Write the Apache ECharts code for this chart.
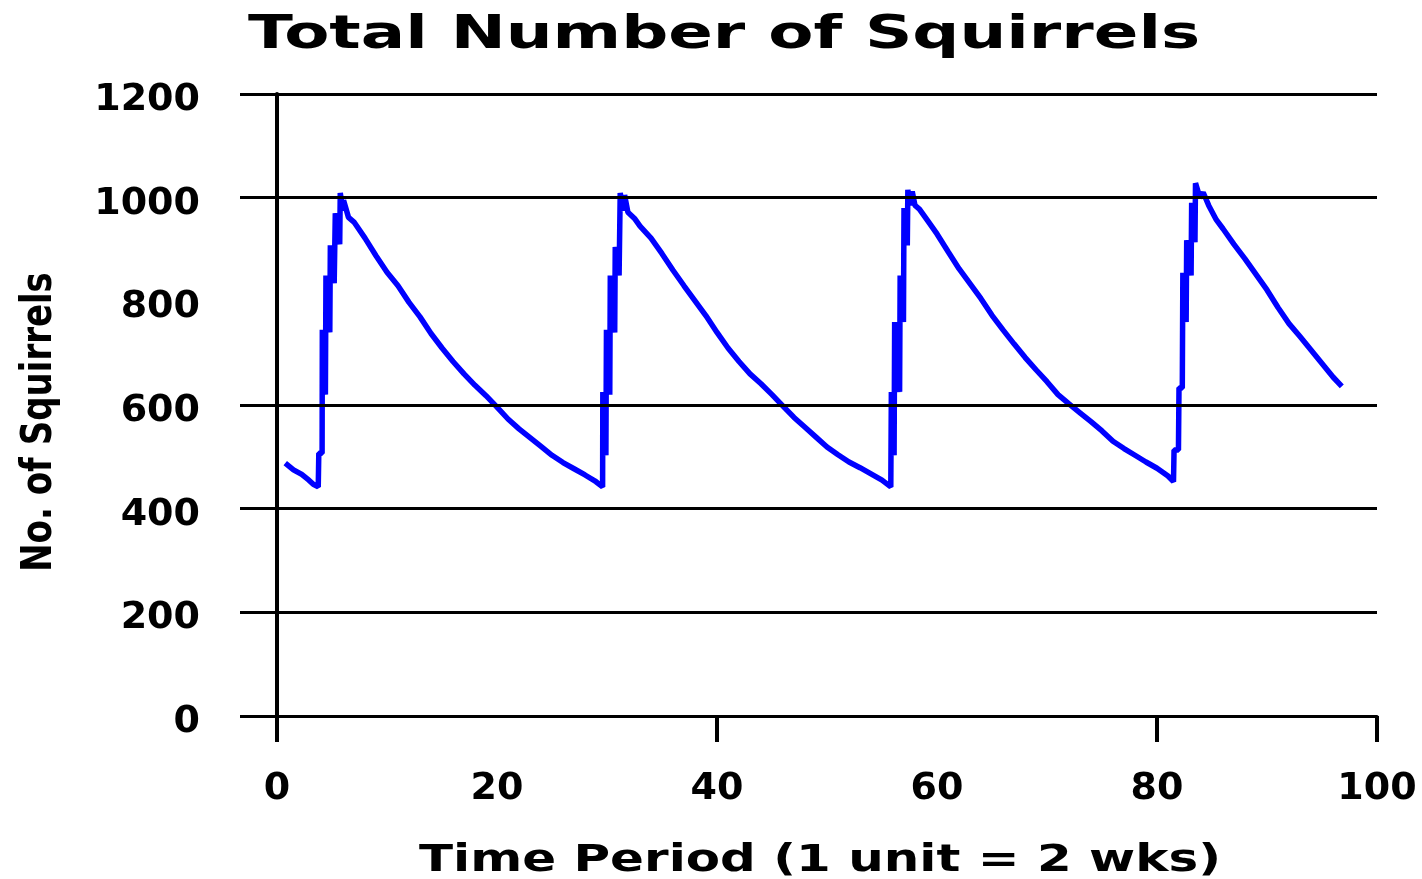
<!DOCTYPE html>
<html>
<head>
<meta charset="utf-8">
<script src="https://cdn.jsdelivr.net/npm/echarts@6/dist/echarts.min.js"></script>
<style>
  html, body { margin: 0; padding: 0; background: #ffffff; }
  #chart { width: 1422px; height: 879px; }
</style>
</head>
<body>
<div id="chart"></div>
<script>
// ---- data ----
const chartTitle = 'Total Number of Squirrels';
const xAxisName = 'Time Period (1 unit = 2 wks)';
const yAxisName = 'No. of Squirrels';

const time = [
  0.75, 1.5, 2.25, 2.9, 3.3, 3.75,
  3.8, 4.1, 4.12, 4.4, 4.45, 4.8, 4.85, 5.2, 5.3, 5.7, 5.75, 6.0, 6.05, 6.5,
  7, 8, 9, 10, 11, 12, 13, 14, 15, 16, 17, 18, 19, 20, 21, 22, 23, 24, 25, 26, 27, 28, 29, 29.6,
  29.62, 29.9, 29.95, 30.25, 30.3, 30.7, 30.75, 31.1, 31.2, 31.5, 31.6, 31.9, 32.5,
  33, 34, 35, 36, 37, 38, 39, 40, 41, 42, 43, 44, 45, 46, 47, 48, 49, 50, 51, 52, 53, 54, 55, 55.8,
  55.85, 56.1, 56.15, 56.6, 56.65, 56.95, 57.0, 57.3, 57.35, 57.55, 57.75, 58.0, 58.4, 59.1,
  60, 61, 62, 63, 64, 65, 66, 67, 68, 69, 70, 71, 72, 73, 74, 75, 76, 77, 78, 79, 80, 81, 81.5,
  81.55, 81.95, 82.0, 82.3, 82.35, 82.65, 82.7, 83.1, 83.15, 83.45, 83.5, 83.9, 84.2, 84.7, 85.4,
  86, 87, 88, 89, 90, 91, 92, 93, 94, 95, 96, 96.8
];
const squirrels = [
  488, 475, 466, 455, 447, 442,
  507, 507, 745, 620, 850, 740, 908, 835, 970, 910, 1009, 975, 995, 962,
  953, 922, 888, 856, 830, 798, 770, 738, 710, 684, 660, 638, 618, 596, 573, 554, 537, 520, 503, 489, 477, 465, 452, 442,
  625, 503, 745, 620, 850, 740, 905, 850, 1009, 975, 1005, 972, 960,
  945, 922, 892, 860, 830, 801, 772, 740, 710, 684, 660, 641, 620, 598, 576, 557, 538, 519, 504, 490, 479, 467, 455, 442,
  625, 503, 760, 625, 850, 760, 980, 908, 1015, 985, 1012, 985, 978, 957,
  930, 896, 863, 834, 805, 773, 745, 718, 692, 668, 645, 620, 602, 585, 568, 550, 530, 516, 503, 490, 478, 463, 452,
  513, 513, 633, 633, 855, 760, 918, 850, 990, 914, 1028, 1000, 1010, 985, 957,
  940, 910, 882, 852, 822, 788, 757, 732, 706, 680, 654, 636
];

const xTickMarks = [0, 40, 80, 100];
const yTickMarks = [0, 200, 400, 600, 1000, 1200];
const gridValues = [0, 200, 400, 600, 1000, 1200];

// ---- chart ----
const chart = echarts.init(document.getElementById('chart'), null, { renderer: 'canvas' });
const pairs = time.map((t, i) => [t, squirrels[i]]);
const FONT = '"DejaVu Sans", "Liberation Sans", sans-serif';

const option = {
  animation: false,
  backgroundColor: '#ffffff',
  grid: { left: 277, right: 45, top: 94, bottom: 163, containLabel: false },
  xAxis: {
    type: 'value',
    min: 0, max: 100, interval: 20,
    axisLine: { show: true, onZero: false, lineStyle: { color: '#000', width: 3 } },
    axisTick: { show: true, inside: false, length: 26, customValues: xTickMarks, lineStyle: { color: '#000', width: 4 } },
    axisLabel: { show: true, margin: 54, color: '#000', fontFamily: FONT, fontWeight: 'bold', fontSize: 38,
                 formatter: v => String(v) },
    splitLine: { show: false }
  },
  yAxis: {
    type: 'value',
    min: 0, max: 1200, interval: 200,
    axisLine: { show: true, lineStyle: { color: '#000', width: 4 } },
    axisTick: { show: true, inside: false, length: 37, customValues: yTickMarks, lineStyle: { color: '#000', width: 3 } },
    axisLabel: { show: true, margin: 77, color: '#000',
                 formatter: v => '{n|' + v + '}',
                 rich: { n: { fontFamily: FONT, fontWeight: 'bold', fontSize: 38, color: '#000', padding: [12, 0, 0, 0] } } },
    splitLine: { show: false }
  },
  series: [
    {
      name: 'grid',
      type: 'line',
      data: [],
      z: 1,
      silent: true,
      markLine: {
        silent: true,
        symbol: ['none', 'none'],
        label: { show: false },
        lineStyle: { color: '#000', width: 3, type: 'solid' },
        emphasis: { disabled: true },
        data: gridValues.map(v => ({ yAxis: v }))
      }
    },
    {
      name: yAxisName,
      type: 'line',
      z: 3,
      data: pairs,
      showSymbol: false,
      symbol: 'none',
      lineStyle: { color: '#0000ff', width: 5.5, join: 'bevel' },
      itemStyle: { color: '#0000ff' }
    }
  ],
  graphic: [
    {
      type: 'text', x: 248, y: 36, scaleX: 1.40,
      style: { text: chartTitle, x: 0, y: 0, font: 'bold 47px ' + FONT, fill: '#000',
               textAlign: 'left', align: 'left', textVerticalAlign: 'middle', verticalAlign: 'middle' }
    },
    {
      type: 'text', x: 820, y: 861, scaleX: 1.35,
      style: { text: xAxisName, x: 0, y: 0, font: 'bold 37px ' + FONT, fill: '#000',
               textAlign: 'center', align: 'center', textVerticalAlign: 'middle', verticalAlign: 'middle' }
    },
    {
      type: 'text', x: 40, y: 422, rotation: Math.PI / 2, scaleY: 1.25,
      style: { text: yAxisName, x: 0, y: 0, font: 'bold 34px ' + FONT, fill: '#000',
               textAlign: 'center', align: 'center', textVerticalAlign: 'middle', verticalAlign: 'middle' }
    }
  ]
};
chart.setOption(option);
</script>
</body>
</html>
